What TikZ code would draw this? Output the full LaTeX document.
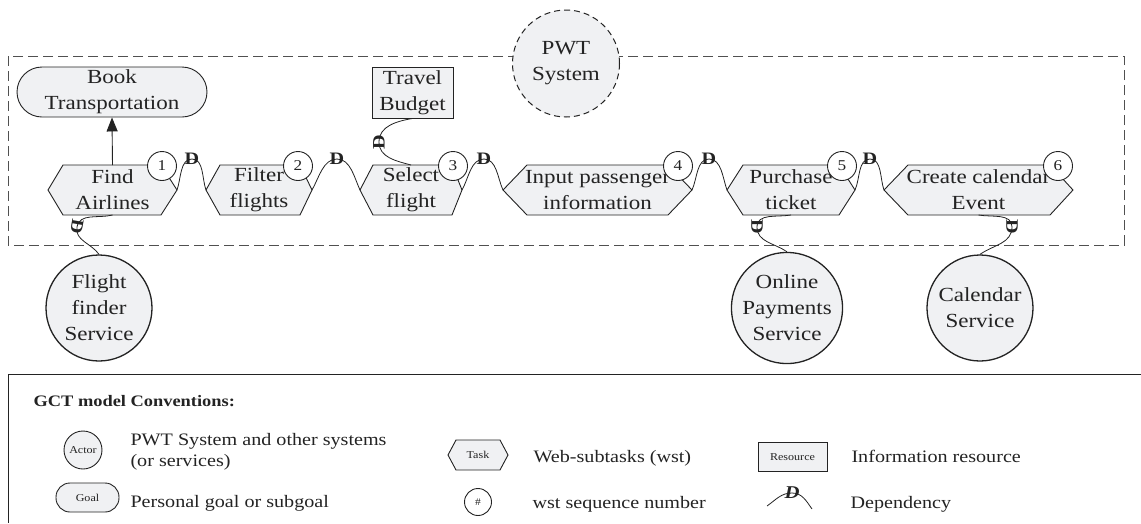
\documentclass[tikz,border=0pt]{standalone}
\usepackage{fontspec}
\setmainfont[FakeStretch=1.15]{Liberation Serif}
\usetikzlibrary{arrows.meta}
\definecolor{fillc}{RGB}{240,241,243}
\definecolor{linec}{RGB}{35,35,35}
\definecolor{framec}{RGB}{80,80,80}
% #1 name, #2 left point x, #3 right point x, #4 left inset, #5 right inset, #6 text
\newcommand\taskhex[6]{%
  \draw[hexline] (#2,-190) -- (#2+#4,-165) -- (#3-#5,-165) -- (#3,-190) -- (#3-#5,-215) -- (#2+#4,-215) -- cycle;
  \node[mainfont, inner sep=0pt] (#1) at ({(#2+#3)/2},-190) {#6};
  \coordinate (#1-w) at (#2,-190);
  \coordinate (#1-e) at (#3,-190);
  \coordinate (#1-n) at ({(#2+#3)/2},-165);
  \coordinate (#1-s) at ({(#2+#3)/2},-215);
}
\tikzset{
  mainfont/.style={font=\fontsize{20}{26}\selectfont, align=center},
  legfont/.style={font=\fontsize{17.5}{21}\selectfont},
  tinyfont/.style={font=\fontsize{10.5}{11}\selectfont},
  hexline/.style={draw=linec, fill=fillc, line width=0.9pt},
  goalbox/.style={draw=linec, fill=fillc, line width=0.9pt, rounded corners=25pt, minimum width=190pt, minimum height=50pt, inner sep=0pt, mainfont},
  resbox/.style={draw=linec, fill=fillc, line width=0.9pt, minimum width=81pt, minimum height=51pt, inner sep=0pt, mainfont},
  actorc/.style={circle, draw=linec, fill=fillc, line width=1.3pt, minimum size=106pt, inner sep=0pt, mainfont},
  sysc/.style={circle, draw=linec, dash pattern=on 6pt off 4pt, fill=fillc, line width=1pt, minimum size=107pt, inner sep=0pt, mainfont},
  numc/.style={circle, draw=linec, fill=white, line width=0.9pt, minimum size=29pt, inner sep=0pt, font=\fontsize{15}{15}\selectfont},
  depD/.style={font=\bfseries\fontsize{17.5}{17.5}\selectfont, inner sep=0pt},
  depline/.style={draw=linec, line width=0.8pt},
  framedash/.style={draw=framec, line width=1pt, dash pattern=on 10pt off 5pt},
}
\begin{document}
\begin{tikzpicture}[x=1pt,y=1pt, every node/.append style={text=linec}]
\useasboundingbox (0,0) rectangle (1141,-523);
\draw[framedash] (8,-56) rectangle (1124,-245);
\node[sysc] (pwt) at (566,-63.5) {PWT\\System};
\node[goalbox] (goal) at (112,-92) {Book\\Transportation};
\node[resbox] (budget) at (412.5,-92.5) {Travel\\Budget};

\taskhex{t1}{48}{177}{15}{16}{Find\\Airlines}
\taskhex{t2}{206}{312}{14}{12}{Filter\\flights}
\taskhex{t3}{360}{462}{13}{10}{Select\\flight}
\taskhex{t4}{503}{692}{24}{24}{Input passenger\\information}
\taskhex{t5}{727}{855}{16}{16}{Purchase\\ticket}
\taskhex{t6}{884}{1073}{24}{23}{Create calendar\\Event}

\node[numc] (n1) at (162,-166) {1};
\node[numc] (n2) at (298,-166) {2};
\node[numc] (n3) at (453,-166) {3};
\node[numc] (n4) at (678,-166) {4};
\node[numc] (n5) at (842,-166) {5};
\node[numc] (n6) at (1058,-166) {6};

\node[actorc] (a1) at (99,-308) {Flight\\finder\\Service};
\node[actorc] (a2) at (787,-308) {Online\\Payments\\Service};
\node[actorc] (a3) at (980,-308) {Calendar\\Service};

\draw[draw=linec, line width=0.9pt, -{Triangle[length=14pt,width=11pt]}] (t1-n) -- (goal.south);

% task-to-task dependencies
\node[depD] (d1) at (192,-159) {D};
\node[depD] (d2) at (337,-159) {D};
\node[depD] (d3) at (484,-159) {D};
\node[depD] (d4) at (709,-159) {D};
\node[depD] (d5) at (870,-159) {D};
\draw[depline] (t1-e) to[out=70,in=180,looseness=0.9] (d1.center) to[out=0,in=110,looseness=0.9] (t2-w);
\draw[depline] (t2-e) to[out=60,in=180,looseness=0.9] (d2.center) to[out=0,in=115,looseness=0.9] (t3-w);
\draw[depline] (t3-e) to[out=60,in=180,looseness=0.9] (d3.center) to[out=0,in=115,looseness=0.9] (t4-w);
\draw[depline] (t4-e) to[out=65,in=180,looseness=0.9] (d4.center) to[out=0,in=110,looseness=0.9] (t5-w);
\draw[depline] (t5-e) to[out=65,in=180,looseness=0.9] (d5.center) to[out=0,in=110,looseness=0.9] (t6-w);

% resource dependency
\node[depD, rotate=90] (db) at (379,-142) {D};
\draw[depline] (budget.south) to[out=190,in=90] (db.center) to[out=-90,in=165] (t3-n);

% actor dependencies
\node[depD, rotate=-100] (da1) at (77,-227) {D};
\draw[depline] (t1-s) to[out=195,in=80] (da1.center) to[out=-100,in=125] (a1.north);
\node[depD, rotate=-90] (da2) at (757,-227) {D};
\draw[depline] (t5-s) to[out=190,in=90] (da2.center) to[out=-90,in=145] (a2.north);
\node[depD, rotate=-90] (da3) at (1012,-227) {D};
\draw[depline] (t6-s) to[out=-10,in=90] (da3.center) to[out=-90,in=35] (a3.north);

% legend
\draw[draw=linec, line width=1pt] (1141,-374) -- (8,-374) -- (8,-523);
\node[anchor=base west, font=\bfseries\fontsize{16}{20}\selectfont] (ltitle) at (30,-406) {GCT model Conventions:};
\node[circle, draw=linec, fill=fillc, line width=0.9pt, minimum size=38pt, inner sep=0pt, tinyfont] (lactor) at (83,-450) {Actor};
\node[anchor=base west, legfont, align=left] (lactortxt) at (127,-466) {PWT System and other systems\\(or services)};
\node[goalbox, minimum width=63pt, minimum height=29pt, rounded corners=14pt, tinyfont] (lgoal) at (87.5,-497.5) {Goal};
\node[anchor=base west, legfont] (lgoaltxt) at (127,-507) {Personal goal or subgoal};
\draw[hexline] (448,-455) -- (456,-440) -- (500,-440) -- (508,-455) -- (500,-470) -- (456,-470) -- cycle;
\node[tinyfont] (ltask) at (478,-455) {Task};
\node[anchor=base west, legfont] (ltasktxt) at (530,-462) {Web-subtasks (wst)};
\node[numc, minimum size=27pt, font=\fontsize{10}{10}\selectfont] (lnum) at (478,-502) {\#};
\node[anchor=base west, legfont] (lnumtxt) at (529,-508) {wst sequence number};
\node[resbox, minimum width=69pt, minimum height=29pt, tinyfont] (lres) at (792.5,-457) {Resource};
\node[anchor=base west, legfont] (lrestxt) at (848,-462) {Information resource};
\node[font=\bfseries\itshape\fontsize{18}{18}\selectfont, inner sep=0pt] (ldep) at (792,-493) {D};
\coordinate (ldepa) at (767,-506);
\coordinate (ldepb) at (812,-509);
\draw[depline] (ldepa) to[out=35,in=180] (ldep.center) to[out=0,in=125] (ldepb);
\node[anchor=base west, legfont] (ldeptxt) at (847,-508) {Dependency};
\end{tikzpicture}
\end{document}
